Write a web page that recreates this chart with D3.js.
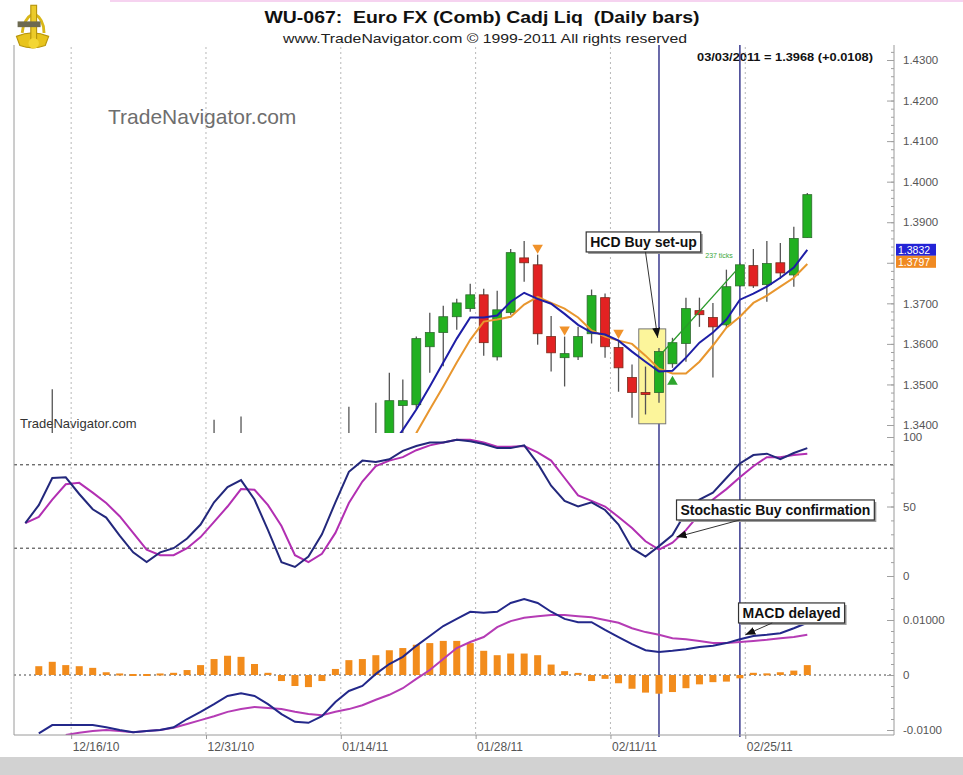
<!DOCTYPE html>
<html>
<head>
<meta charset="utf-8">
<script src="https://cdn.jsdelivr.net/npm/d3@7/dist/d3.min.js"></script>
<style>
  html, body { margin: 0; padding: 0; background: #fff; }
  svg { display: block; }
  text { font-family: "Liberation Sans", Arial, sans-serif; }
</style>
</head>
<body>
<svg id="chart" width="963" height="775"></svg>
<script>
// Euro FX daily bars, 12/10/10 .. 03/03/11 : candles + 2 MAs, stochastic, MACD

const dates = [
  "12/10/10", "12/13/10", "12/14/10", "12/15/10", "12/16/10", "12/17/10", "12/20/10", "12/21/10",
  "12/22/10", "12/23/10", "12/27/10", "12/28/10", "12/29/10", "12/30/10", "12/31/10", "01/03/11",
  "01/04/11", "01/05/11", "01/06/11", "01/07/11", "01/10/11", "01/11/11", "01/12/11", "01/13/11",
  "01/14/11", "01/17/11", "01/18/11", "01/19/11", "01/20/11", "01/21/11", "01/24/11", "01/25/11",
  "01/26/11", "01/27/11", "01/28/11", "01/31/11", "02/01/11", "02/02/11", "02/03/11", "02/04/11",
  "02/07/11", "02/08/11", "02/09/11", "02/10/11", "02/11/11", "02/14/11", "02/15/11", "02/16/11",
  "02/17/11", "02/18/11", "02/21/11", "02/22/11", "02/23/11", "02/24/11", "02/25/11", "02/28/11",
  "03/01/11", "03/02/11", "03/03/11"
];
const tickDates = ["12/16/10", "12/31/10", "01/14/11", "01/28/11", "02/11/11", "02/25/11"];

// OHLC (null = bar lies entirely below the visible price range)
const N0 = null;
const open = [
  N0, N0, 1.3320, N0, N0, N0, N0, N0, N0, N0, N0, N0, N0, N0, 1.3350, N0, 1.3345, N0, N0, N0, N0, N0, N0, N0, 1.3300, N0, 1.3360,
  1.3370, 1.3448, 1.3450, 1.3593, 1.3628, 1.3667, 1.3687, 1.3721, 1.3568, 1.3677, 1.3812, 1.3795, 1.3618, 1.3566, 1.3568, 1.3625,
  1.3714, 1.3591, 1.3517, 1.3480, 1.3480, 1.3551, 1.3601, 1.3682, 1.3665, 1.3647, 1.3743, 1.3793, 1.3746, 1.3800, 1.3770, 1.3862
];
const high = [
  N0, N0, 1.3488, N0, N0, N0, N0, N0, N0, N0, N0, N0, N0, N0, 1.3413, N0, 1.3421, N0, N0, N0, N0, N0, N0, N0, 1.3445, N0, 1.3455,
  1.3529, 1.3512, 1.3618, 1.3677, 1.3694, 1.3711, 1.3748, 1.3736, 1.3731, 1.3834, 1.3854, 1.3820, 1.3669, 1.3618, 1.3642, 1.3734,
  1.3724, 1.3610, 1.3549, 1.3544, 1.3590, 1.3615, 1.3714, 1.3714, 1.3701, 1.3783, 1.3800, 1.3834, 1.3854, 1.3849, 1.3889, 1.3972
];
const low = [
  N0, N0, 1.3300, N0, N0, N0, N0, N0, N0, N0, N0, N0, N0, N0, 1.3320, N0, 1.3310, N0, N0, N0, N0, N0, N0, N0, 1.3280, N0, 1.3320,
  1.3350, 1.3370, 1.3438, 1.3529, 1.3545, 1.3635, 1.3679, 1.3571, 1.3559, 1.3672, 1.3753, 1.3598, 1.3532, 1.3495, 1.3560, 1.3601,
  1.3566, 1.3482, 1.3418, 1.3426, 1.3455, 1.3541, 1.3556, 1.3642, 1.3517, 1.3640, 1.3740, 1.3738, 1.3704, 1.3760, 1.3741, 1.3862
];
const close = [
  N0, N0, 1.3350, N0, N0, N0, N0, N0, N0, N0, N0, N0, N0, N0, 1.3370, N0, 1.3370, N0, N0, N0, N0, N0, N0, N0, 1.3350, N0, 1.3375,
  1.3460, 1.3460, 1.3613, 1.3628, 1.3667, 1.3701, 1.3721, 1.3603, 1.3684, 1.3825, 1.3800, 1.3625, 1.3578, 1.3576, 1.3618, 1.3719,
  1.3593, 1.3541, 1.3480, 1.3475, 1.3581, 1.3603, 1.3687, 1.3672, 1.3642, 1.3741, 1.3795, 1.3743, 1.3798, 1.3775, 1.3860, 1.3968
];

// moving averages on price (blue fast, orange slow)
const maFast = [
  N0, N0, N0, N0, N0, N0, N0, N0, N0, N0, N0, N0, N0, N0, N0, N0, N0, N0, N0, N0, N0, N0, N0, N0, N0, N0, N0,
  1.3340, 1.3388, 1.3438, 1.3495, 1.3554, 1.3613, 1.3665, 1.3665, 1.3670, 1.3704, 1.3726, 1.3711, 1.3699, 1.3674, 1.3647, 1.3628,
  1.3623, 1.3608, 1.3581, 1.3556, 1.3532, 1.3534, 1.3566, 1.3603, 1.3628, 1.3660, 1.3709, 1.3724, 1.3741, 1.3763, 1.3788, 1.3832
];
const maSlow = [
  N0, N0, N0, N0, N0, N0, N0, N0, N0, N0, N0, N0, N0, N0, N0, N0, N0, N0, N0, N0, N0, N0, N0, N0, N0, N0, N0,
  N0, 1.3330, 1.3380, 1.3438, 1.3495, 1.3554, 1.3610, 1.3655, 1.3660, 1.3667, 1.3697, 1.3716, 1.3701, 1.3687, 1.3665, 1.3633,
  1.3618, 1.3608, 1.3600, 1.3571, 1.3539, 1.3527, 1.3527, 1.3556, 1.3596, 1.3640, 1.3667, 1.3701, 1.3719, 1.3741, 1.3763, 1.3797
];

// stochastic %K (blue) and %D (magenta)
const stochK = [
  38, 51, 70.5, 71, 59, 48, 42, 29, 17, 10, 17, 20, 27, 37, 53, 64, 69, 55, 33, 10, 6.5, 14, 30, 53, 75, 83, 82,
  84, 90, 93.5, 96, 96, 98, 97, 95, 92, 92, 94, 81, 65, 54, 50, 53, 47.5, 37, 20, 14, 21.5, 29.5, 46, 55, 60, 70.5, 81, 87, 88, 84, 88.5, 92
];
const stochD = [
  38, 42.5, 55, 66, 67, 60, 52.5, 43, 31, 19, 15, 15, 20, 28, 39, 50, 62.5, 62, 51, 36, 15, 10, 16, 31, 52.5, 68, 79,
  83, 85.5, 90.5, 94, 96, 98, 98, 96, 93, 93, 93.5, 89, 83, 70.5, 58, 54, 50, 42.5, 34.5, 25, 19, 24, 33, 44.5, 55, 62.5, 71, 79, 85.5, 85.5, 87, 88
];

// MACD line (blue), signal (magenta), histogram (orange)
const macdLine = [
  N0, -0.0106, -0.0091, -0.0091, -0.0091, -0.0091, -0.0095, -0.0100, -0.0104, -0.0102, -0.0100, -0.0095, -0.0080, -0.0067,
  -0.0053, -0.0038, -0.0033, -0.0038, -0.0053, -0.0071, -0.0085, -0.0087, -0.0075, -0.0049, -0.0029, -0.0020, 0.0002,
  0.0020, 0.0033, 0.0053, 0.0071, 0.0089, 0.0102, 0.0115, 0.0113, 0.0115, 0.0131, 0.0138, 0.0131, 0.0115, 0.0102, 0.0096, 0.0096,
  0.0082, 0.0069, 0.0056, 0.0045, 0.0042, 0.0044, 0.0047, 0.0051, 0.0053, 0.0058, 0.0065, 0.0071, 0.0073, 0.0076, 0.0085, 0.0095
];
const macdSignal = [
  N0, N0, N0, -0.0109, -0.0105, -0.0102, -0.0100, -0.0102, -0.0104, -0.0102, -0.0100, -0.0096, -0.0089, -0.0082,
  -0.0075, -0.0067, -0.0062, -0.0058, -0.0060, -0.0062, -0.0067, -0.0071, -0.0073, -0.0067, -0.0062, -0.0055, -0.0045,
  -0.0036, -0.0024, -0.0007, 0.0009, 0.0029, 0.0049, 0.0060, 0.0069, 0.0087, 0.0098, 0.0104, 0.0107, 0.0109, 0.0109, 0.0107, 0.0105,
  0.0100, 0.0095, 0.0085, 0.0078, 0.0073, 0.0067, 0.0065, 0.0062, 0.0058, 0.0058, 0.0060, 0.0062, 0.0064, 0.0067, 0.0069, 0.0073
];
const macdHist = [
  N0, 0.0016, 0.0024, 0.0018, 0.0016, 0.0013, 0.0005, 0.0001, -0.0002, -0.0002, 0.0001, 0.0004, 0.0009, 0.0018,
  0.0029, 0.0035, 0.0033, 0.0020, 0.0004, -0.0011, -0.0020, -0.0022, -0.0011, 0.0011, 0.0027, 0.0029, 0.0036,
  0.0045, 0.0049, 0.0055, 0.0058, 0.0062, 0.0062, 0.0058, 0.0044, 0.0036, 0.0039, 0.0039, 0.0036, 0.0019, 0.0007, 0.0002, -0.0011,
  -0.0007, -0.0015, -0.0025, -0.0032, -0.0034, -0.0031, -0.0024, -0.0017, -0.0013, -0.0012, -0.0006, 0.0004, 0.0003, 0.0005, 0.0008, 0.0018
];

// signals / markup
const sellMarks = ["02/03/11", "02/07/11", "02/11/11"];   // orange down triangles
const buyMarks = ["02/17/11"];                            // green up triangle
const eventLines = ["02/16/11", "02/24/11"];
const setupZone = { from: "02/15/11", to: "02/16/11", lo: 1.3403, hi: 1.3637 };
const measure = { from: "02/16/11", to: "02/24/11", p0: 1.3569, p1: 1.3791, label: "237 ticks" };
const priceTicks = [1.34, 1.35, 1.36, 1.37, 1.38, 1.39, 1.40, 1.41, 1.42, 1.43];
const stochTicks = [0, 50, 100];
const macdTicks = [-0.01, 0, 0.01];
const macdTickLabels = ["-0.0100", "0", "0.01000"];
const lastBar = "03/03/2011 = 1.3968 (+0.0108)";

// ---- layout ----
const plotL = 14, plotR = 894;
const pricePane = [45, 433], stochPane = [433, 592], macdPane = [592, 735];
const idx = d => dates.indexOf(d);

const svg = d3.select("#chart");
const x = d3.scaleLinear().domain([0, dates.length - 1]).range([25.3, 807.3]);
const step = x(1) - x(0);
const yP = d3.scaleLinear().domain([1.34, 1.43]).range([425, 60]);
const yS = d3.scaleLinear().domain([0, 100]).range([576, 437]);
const yM = d3.scaleLinear().domain([-0.01, 0.01]).range([730, 620]);

const defs = svg.append("defs");
[["clipP", pricePane], ["clipS", stochPane], ["clipM", macdPane]].forEach(([id, p]) => {
  defs.append("clipPath").attr("id", id).append("rect")
    .attr("x", plotL).attr("y", p[0]).attr("width", plotR - plotL).attr("height", p[1] - p[0]);
});
defs.append("marker").attr("id", "arr").attr("viewBox", "0 0 10 8")
  .attr("refX", 10).attr("refY", 4).attr("markerWidth", 10).attr("markerHeight", 8)
  .attr("markerUnits", "userSpaceOnUse").attr("orient", "auto")
  .append("path").attr("d", "M0,0L10,4L0,8Z").attr("fill", "#111");

// backdrop
svg.append("rect").attr("width", 963).attr("height", 775).attr("fill", "#fff");
svg.append("rect").attr("x", 0).attr("y", 757).attr("width", 963).attr("height", 18).attr("fill", "#d2d2d2");
svg.append("line").attr("x1", 110).attr("x2", 963).attr("y1", 1).attr("y2", 1)
  .attr("stroke", "#f6d3f0").attr("stroke-width", 2);

// logo (gold instrument)
const logo = svg.append("g").attr("transform", "translate(13,3) scale(1.15)");
logo.append("path").attr("d", "M3,29 Q17,23 31,29 L28,37 Q17,41 6,37 Z").attr("fill", "#e8c41c").attr("stroke", "#b8960c");
logo.append("path").attr("d", "M8,26 Q9,14 18,9 Q27,14 27,26").attr("fill", "none").attr("stroke", "#d9b718").attr("stroke-width", 2.5);
logo.append("rect").attr("x", 15.5).attr("y", 2).attr("width", 5).attr("height", 30).attr("fill", "#eccb2a").attr("stroke", "#b8960c");
logo.append("rect").attr("x", 4).attr("y", 16).attr("width", 20).attr("height", 5).attr("fill", "#6d6a50");
logo.append("circle").attr("cx", 18).attr("cy", 35).attr("r", 4.5).attr("fill", "#f3d634");

// titles
svg.append("text").attr("x", 482).attr("y", 23).attr("text-anchor", "middle").style("white-space", "pre")
  .attr("font-size", 16).attr("font-weight", "bold").attr("fill", "#111")
  .attr("textLength", 435).attr("lengthAdjust", "spacingAndGlyphs")
  .text("WU-067:  Euro FX (Comb) Cadj Liq  (Daily bars)");
svg.append("text").attr("x", 485).attr("y", 43).attr("text-anchor", "middle")
  .attr("font-size", 13).attr("fill", "#222")
  .attr("textLength", 404).attr("lengthAdjust", "spacingAndGlyphs")
  .text("www.TradeNavigator.com \u00a9 1999-2011 All rights reserved");
svg.append("text").attr("x", 873).attr("y", 61).attr("text-anchor", "end")
  .attr("font-size", 11.5).attr("font-weight", "bold").attr("fill", "#111")
  .attr("textLength", 176).attr("lengthAdjust", "spacingAndGlyphs").text(lastBar);

// watermarks
svg.append("text").attr("x", 108).attr("y", 124).attr("font-size", 21).attr("fill", "#6e6e6e").text("TradeNavigator.com");
svg.append("text").attr("x", 20).attr("y", 428).attr("font-size", 13).attr("fill", "#333").text("TradeNavigator.com");

// vertical dotted date grid
const gridX = tickDates.map(d => x(idx(d) - 0.6));
svg.append("g").selectAll("line").data(gridX).join("line")
  .attr("x1", d => d).attr("x2", d => d).attr("y1", 47).attr("y2", 735)
  .attr("stroke", "#b8b8b8").attr("stroke-dasharray", "2,3");

// event lines
svg.append("g").selectAll("line").data(eventLines).join("line")
  .attr("x1", d => x(idx(d))).attr("x2", d => x(idx(d))).attr("y1", 45).attr("y2", 737)
  .attr("stroke", "#3a3a8e").attr("stroke-width", 1.5);

// ---- price pane ----
const gP = svg.append("g").attr("clip-path", "url(#clipP)");
gP.append("rect")
  .attr("x", x(idx(setupZone.from)) - step / 2).attr("width", (idx(setupZone.to) - idx(setupZone.from) + 1) * step)
  .attr("y", yP(setupZone.hi)).attr("height", yP(setupZone.lo) - yP(setupZone.hi))
  .attr("fill", "#fcf59b").attr("stroke", "#777").attr("stroke-width", 1);

const bars = dates.map((d, i) => ({ i, o: open[i], h: high[i], l: low[i], c: close[i] })).filter(b => b.o != null);
const bw = step * 0.66;
gP.append("g").selectAll("line").data(bars).join("line")
  .attr("x1", b => x(b.i)).attr("x2", b => x(b.i)).attr("y1", b => yP(b.h)).attr("y2", b => yP(b.l))
  .attr("stroke", "#555").attr("stroke-width", 1.3);
gP.append("g").selectAll("rect").data(bars).join("rect")
  .attr("x", b => x(b.i) - bw / 2).attr("width", bw)
  .attr("y", b => yP(Math.max(b.o, b.c))).attr("height", b => Math.max(2, Math.abs(yP(b.o) - yP(b.c))))
  .attr("fill", b => b.c >= b.o ? "#21b021" : "#e22222")
  .attr("stroke", b => b.c >= b.o ? "#2f6a2f" : "#7a2a1a").attr("stroke-width", 0.8);

const linePrice = arr => d3.line().defined(d => d != null).x((d, i) => x(i)).y(d => yP(d))(arr);
gP.append("path").attr("d", linePrice(maSlow)).attr("fill", "none").attr("stroke", "#e8962e").attr("stroke-width", 2);
gP.append("path").attr("d", linePrice(maFast)).attr("fill", "none").attr("stroke", "#1e1ea6").attr("stroke-width", 2);

gP.append("line")
  .attr("x1", x(idx(measure.from))).attr("y1", yP(measure.p0))
  .attr("x2", x(idx(measure.to))).attr("y2", yP(measure.p1))
  .attr("stroke", "#2a9a2a").attr("stroke-width", 1.3);
gP.append("text").attr("x", x(idx(measure.to)) - 7).attr("y", yP(measure.p1) - 8)
  .attr("text-anchor", "end").attr("font-size", 7).attr("fill", "#3aa83a").text(measure.label);

const tri = d3.symbol(d3.symbolTriangle, 48);
gP.append("g").selectAll("path").data(sellMarks).join("path")
  .attr("d", tri).attr("fill", "#f0922a")
  .attr("transform", d => `translate(${x(idx(d))},${yP(high[idx(d)]) - 7}) rotate(180)`);
gP.append("g").selectAll("path").data(buyMarks).join("path")
  .attr("d", tri).attr("fill", "#2ea52e")
  .attr("transform", d => `translate(${x(idx(d))},${yP(low[idx(d)]) + 14})`);

// ---- stochastic pane ----
const gS = svg.append("g").attr("clip-path", "url(#clipS)");
gS.append("g").selectAll("line").data([20, 80]).join("line")
  .attr("x1", plotL).attr("x2", plotR).attr("y1", d => yS(d)).attr("y2", d => yS(d))
  .attr("stroke", "#333").attr("stroke-dasharray", "3,3");
const lineS = d3.line().x((d, i) => x(i)).y(d => yS(d));
gS.append("path").attr("d", lineS(stochD)).attr("fill", "none").attr("stroke", "#b22fb2").attr("stroke-width", 2);
gS.append("path").attr("d", lineS(stochK)).attr("fill", "none").attr("stroke", "#23287c").attr("stroke-width", 2);

// ---- MACD pane ----
const gM = svg.append("g").attr("clip-path", "url(#clipM)");
gM.append("line").attr("x1", plotL).attr("x2", plotR).attr("y1", yM(0)).attr("y2", yM(0))
  .attr("stroke", "#444").attr("stroke-dasharray", "2,3");
const hb = step * 0.52;
gM.append("g").selectAll("rect").data(macdHist.map((v, i) => ({ v, i })).filter(d => d.v != null)).join("rect")
  .attr("x", d => x(d.i) - hb / 2).attr("width", hb)
  .attr("y", d => Math.min(yM(d.v), yM(0)) - (Math.abs(d.v) < 0.0003 ? 1 : 0))
  .attr("height", d => Math.max(2, Math.abs(yM(d.v) - yM(0))))
  .attr("fill", "#f28c1c");
const lineM = d3.line().defined(d => d != null).x((d, i) => x(i)).y(d => yM(d));
gM.append("path").attr("d", lineM(macdSignal)).attr("fill", "none").attr("stroke", "#b53cb5").attr("stroke-width", 2);
gM.append("path").attr("d", lineM(macdLine)).attr("fill", "none").attr("stroke", "#23288a").attr("stroke-width", 2);

// ---- callouts ----
const callouts = [
  { text: "HCD Buy set-up", y: yP, at: 41.6, top: 1.3876, from: 46.0, tip: [46.9, 1.3615] },
  { text: "Stochastic Buy confirmation", y: yS, at: 48.3, top: 54.7, from: 53.0, tip: [48.3, 28] },
  { text: "MACD delayed", y: yM, at: 52.9, top: 0.0131, from: 55.4, tip: [53.4, 0.0073] }
];
callouts.forEach(c => {
  const g = svg.append("g");
  const bx = x(c.at), by = c.y(c.top);
  const t = g.append("text").attr("x", bx + 4).attr("y", by + 15)
    .attr("font-size", 14).attr("font-weight", "bold").attr("fill", "#111").text(c.text);
  const w = t.node().getComputedTextLength() + 8;
  g.insert("rect", "text").attr("x", bx + 2).attr("y", by + 2).attr("width", w).attr("height", 20).attr("fill", "#9a9a9a");
  g.insert("rect", "text").attr("x", bx).attr("y", by).attr("width", w).attr("height", 20)
    .attr("fill", "#fff").attr("stroke", "#333").attr("stroke-width", 1.2);
  g.append("line").attr("x1", x(c.from)).attr("y1", by + 20)
    .attr("x2", x(c.tip[0])).attr("y2", c.y(c.tip[1]))
    .attr("stroke", "#333").attr("stroke-width", 1).attr("marker-end", "url(#arr)");
});

// ---- axes ----
const frame = svg.append("g").attr("stroke", "#9a9a9a").attr("stroke-width", 1);
frame.append("line").attr("x1", plotL).attr("x2", plotL).attr("y1", 45).attr("y2", 735);
frame.append("line").attr("x1", plotR).attr("x2", plotR).attr("y1", 45).attr("y2", 735);
frame.append("line").attr("x1", plotL).attr("x2", plotR).attr("y1", 735).attr("y2", 735);

function rightAxis(scale, major, minor, fmt) {
  const gMinor = svg.append("g").attr("transform", `translate(${plotR},0)`)
    .call(d3.axisRight(scale).tickValues(minor).tickSize(-3).tickFormat(""));
  const gMajor = svg.append("g").attr("transform", `translate(${plotR},0)`)
    .call(d3.axisRight(scale).tickValues(major).tickSize(-7).tickPadding(9).tickFormat(fmt));
  [gMinor, gMajor].forEach(g => {
    g.select(".domain").remove();
    g.selectAll("line").attr("stroke", "#a0a0a0");
    g.selectAll("text").attr("fill", "#555").attr("font-size", 11.5)
      .attr("font-family", "'Liberation Sans', Arial, sans-serif");
  });
  return gMajor;
}
const priceAxis = rightAxis(yP, priceTicks, d3.range(1.34, 1.4331, 0.002), d3.format(".4f"));
rightAxis(yS, stochTicks, d3.range(0, 101, 10), d3.format("d"));
rightAxis(yM, macdTicks, d3.range(-0.01, 0.0141, 0.002), (d, i) => macdTickLabels[i]);

const gx = svg.append("g").attr("transform", "translate(0,735)")
  .call(d3.axisBottom(x).tickValues(tickDates.map(d => idx(d) - 0.6)).tickSize(4)
    .tickFormat((d, i) => tickDates[i]));
gx.select(".domain").remove();
gx.selectAll("line").attr("stroke", "#999");
gx.selectAll("text").attr("text-anchor", "start").attr("dx", 1).attr("fill", "#555")
  .attr("font-size", 12).attr("font-family", "'Liberation Sans', Arial, sans-serif");

// last values of the MAs on the price scale (they cover the axis label beneath them)
const tagTop = yP(maFast[maFast.length - 1]) - 6;
[[maFast, "#2323d6"], [maSlow, "#f08a22"]].forEach(([arr, col], k) => {
  const v = arr[arr.length - 1];
  const ty = tagTop + k * 12;
  svg.append("rect").attr("x", plotR + 2).attr("y", ty).attr("width", 40).attr("height", 12).attr("fill", col);
  svg.append("text").attr("x", plotR + 4).attr("y", ty + 10).attr("font-size", 10.5).attr("fill", "#fff")
    .text(v.toFixed(4));
});
priceAxis.selectAll(".tick").filter(d => Math.abs(yP(d) - tagTop - 12) < 14).select("text").remove();
</script>
</body>
</html>
